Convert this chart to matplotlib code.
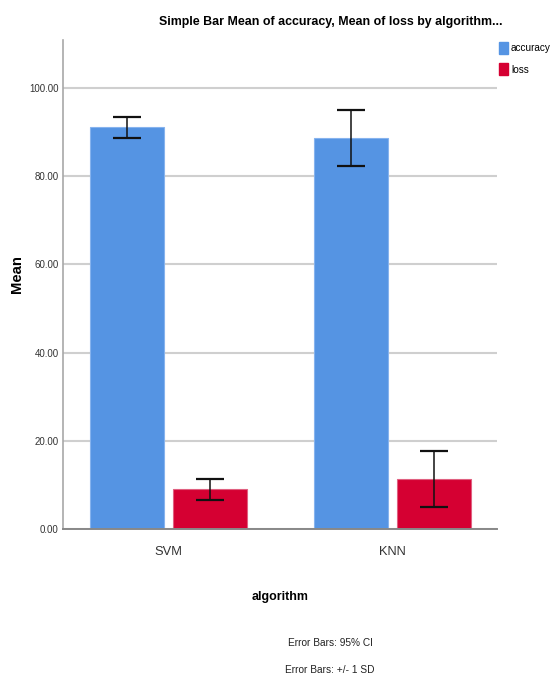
import matplotlib
matplotlib.use("Agg")
import matplotlib.pyplot as plt
import numpy as np
from matplotlib.patches import Patch

categories = ["SVM", "KNN"]
series_names = ["accuracy", "loss"]
accuracy_mean = [91.1, 88.6]
accuracy_err = [2.4, 6.35]
loss_mean = [9.0, 11.3]
loss_err = [2.4, 6.3]
yticks = [0, 20, 40, 60, 80, 100]

FONT = ["Liberation Sans", "DejaVu Sans"]

blue = "#5594e3"
red = "#d50032"

fig = plt.figure(figsize=(5.52, 6.87), dpi=100)
ax = fig.add_axes([63/552, 1-529/687, (497-63)/552, (529-40)/687])

x = np.arange(len(categories))
bw = 0.33
gap = 0.04
off = (bw + gap) / 2

ax.set_axisbelow(True)
ax.grid(axis="y", color="#cfcfcf", linewidth=1.5)
ax.bar(x - off, accuracy_mean, width=bw, color=blue, edgecolor="#86b3ee", linewidth=0.8, zorder=2)
ax.bar(x + off, loss_mean, width=bw, color=red, edgecolor="#e06080", linewidth=0.8, zorder=2)
ax.errorbar(x - off, accuracy_mean, yerr=accuracy_err, fmt="none", ecolor="#111111",
            elinewidth=1.1, capsize=10, capthick=1.6, zorder=3)
ax.errorbar(x + off, loss_mean, yerr=loss_err, fmt="none", ecolor="#111111",
            elinewidth=1.1, capsize=10, capthick=1.6, zorder=3)

ax.set_xlim(-0.471, 1.467)
ax.set_ylim(0, 110.9)
ax.set_yticks(yticks)
ax.set_yticklabels([f"{v:.2f}" for v in yticks], family=FONT, fontsize=7, color="#333333")
ax.set_xticks(x)
ax.set_xticklabels(categories, family=FONT, fontsize=9.3, color="#333333")
ax.tick_params(axis="y", length=0, pad=3)
ax.tick_params(axis="x", length=0, pad=12)

for s in ["top", "right"]:
    ax.spines[s].set_visible(False)
ax.spines["left"].set_color("#a8a8a8")
ax.spines["left"].set_linewidth(1.2)
ax.spines["bottom"].set_color("#888888")
ax.spines["bottom"].set_linewidth(1.4)

ax.set_ylabel("Mean", family=FONT, fontweight="bold", fontsize=10.7, va="center", ha="center")
ax.yaxis.set_label_coords((17-63)/434, (529-274)/489)
ax.set_xlabel("algorithm", family=FONT, fontweight="bold", fontsize=8.9, va="center", ha="center")
ax.xaxis.set_label_coords((280-63)/434, (529-597)/489)

fig.text(331/552, 1-22/687, "Simple Bar Mean of accuracy, Mean of loss by algorithm...",
         family=FONT, fontweight="bold", fontsize=8.95, ha="center", va="center")
fig.text(330/552, 1-643/687, "Error Bars: 95% CI", family=FONT, fontsize=7.3,
         ha="center", va="center", color="#222222")
fig.text(330/552, 1-670/687, "Error Bars: +/- 1 SD", family=FONT, fontsize=7.3,
         ha="center", va="center", color="#222222")

handles = [Patch(facecolor=blue, edgecolor=blue), Patch(facecolor=red, edgecolor=red)]
leg = fig.legend(handles, series_names, loc="upper left",
                 bbox_to_anchor=(499/552, 1-42/687), frameon=False,
                 handlelength=0.9, handleheight=1.5, handletextpad=0.3,
                 labelspacing=0.9, borderpad=0, borderaxespad=0,
                 prop={"family": FONT, "size": 7.2})

fig.savefig("out.png", dpi=100)
